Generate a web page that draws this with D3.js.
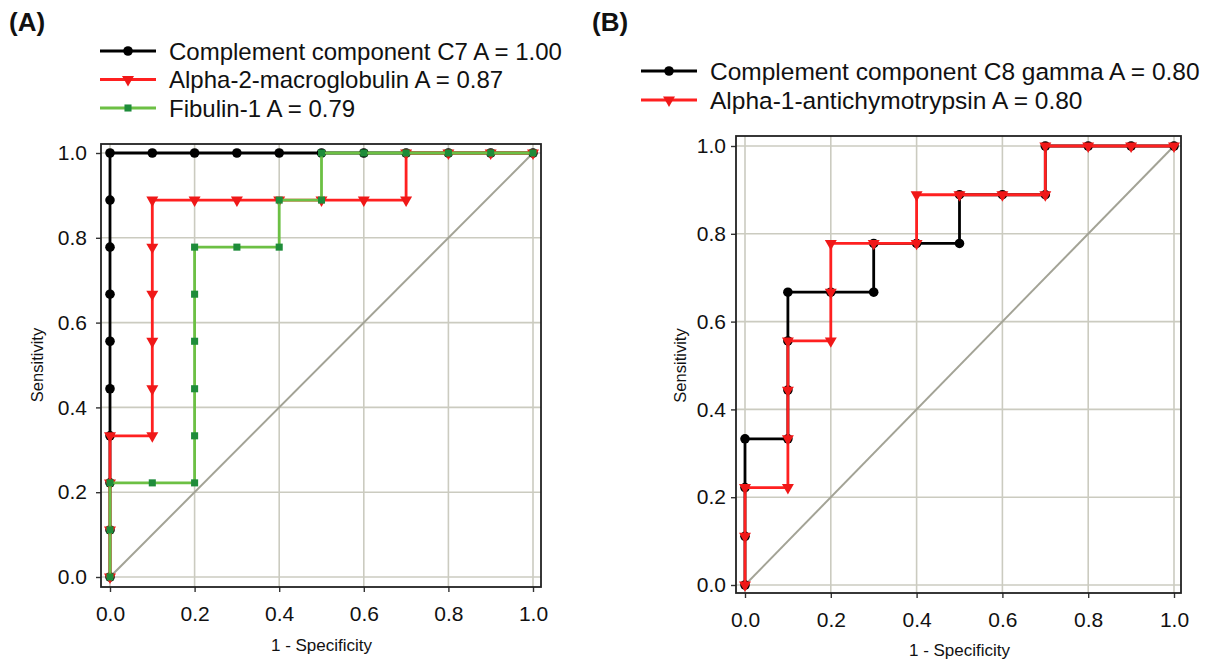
<!DOCTYPE html>
<html>
<head>
<meta charset="utf-8">
<script src="https://cdn.jsdelivr.net/npm/d3@7"></script>
<style>
    body { margin: 0; background: #fff; }
    svg text { font-family: "Liberation Sans", Arial, sans-serif; fill: #111; }
</style>
</head>
<body>
<div id="chart"></div>
<script>
"use strict"

// ---------------------------- DATA ----------------------------//
const tickValues = [0, 0.2, 0.4, 0.6, 0.8, 1.0];

// panel A
const c7Fpr = [0, 0, 0, 0, 0, 0, 0, 0, 0, 0, 0.1, 0.2, 0.3, 0.4, 0.5, 0.6, 0.7, 0.8, 0.9, 1.0];
const c7Sens = [0, 0.111, 0.222, 0.333, 0.444, 0.556, 0.667, 0.778, 0.889, 1.0, 1.0, 1.0, 1.0, 1.0, 1.0, 1.0, 1.0, 1.0, 1.0, 1.0];
const a2mFpr = [0, 0, 0, 0, 0.1, 0.1, 0.1, 0.1, 0.1, 0.1, 0.2, 0.3, 0.4, 0.5, 0.6, 0.7, 0.7, 0.8, 0.9, 1.0];
const a2mSens = [0, 0.111, 0.222, 0.333, 0.333, 0.444, 0.556, 0.667, 0.778, 0.889, 0.889, 0.889, 0.889, 0.889, 0.889, 0.889, 1.0, 1.0, 1.0, 1.0];
const fibFpr = [0, 0, 0, 0.1, 0.2, 0.2, 0.2, 0.2, 0.2, 0.2, 0.3, 0.4, 0.4, 0.5, 0.5, 0.6, 0.7, 0.8, 0.9, 1.0];
const fibSens = [0, 0.111, 0.222, 0.222, 0.222, 0.333, 0.444, 0.556, 0.667, 0.778, 0.778, 0.778, 0.889, 0.889, 1.0, 1.0, 1.0, 1.0, 1.0, 1.0];
const labelsA = ["Complement component C7 A = 1.00", "Alpha-2-macroglobulin A = 0.87", "Fibulin-1 A = 0.79"];

// panel B
const c8Fpr = [0, 0, 0, 0, 0.1, 0.1, 0.1, 0.1, 0.2, 0.3, 0.3, 0.4, 0.5, 0.5, 0.6, 0.7, 0.7, 0.8, 0.9, 1.0];
const c8Sens = [0, 0.111, 0.222, 0.333, 0.333, 0.444, 0.556, 0.667, 0.667, 0.667, 0.778, 0.778, 0.778, 0.889, 0.889, 0.889, 1.0, 1.0, 1.0, 1.0];
const a1actFpr = [0, 0, 0, 0.1, 0.1, 0.1, 0.1, 0.2, 0.2, 0.2, 0.3, 0.4, 0.4, 0.5, 0.6, 0.7, 0.7, 0.8, 0.9, 1.0];
const a1actSens = [0, 0.111, 0.222, 0.222, 0.333, 0.444, 0.556, 0.556, 0.667, 0.778, 0.778, 0.778, 0.889, 0.889, 0.889, 0.889, 1.0, 1.0, 1.0, 1.0];
const labelsB = ["Complement component C8 gamma A = 0.80", "Alpha-1-antichymotrypsin A = 0.80"];

// --------------------------- STYLES ---------------------------//
const styles = {
    black: { line: "#000000", fill: "#000000", symbol: "circle" },
    red: { line: "#ff2020", fill: "#f01818", symbol: "triangle" },
    green: { line: "#6cc044", fill: "#1e8c3a", symbol: "square" }
};

const svg = d3.select("#chart").append("svg")
    .attr("width", 1208)
    .attr("height", 659);

const symbolPath = (kind) => {
    if (kind === "circle") return d3.symbol().type(d3.symbolCircle).size(72)();
    if (kind === "square") return d3.symbol().type(d3.symbolSquare).size(50)();
    return d3.symbol().type(d3.symbolTriangle).size(62)();
};
const symbolRotate = (kind) => kind === "triangle" ? " rotate(180)" : "";

/**
 * One ROC panel
 * @param {*} box plot frame {left, right, top, bottom}
 * @param {*} inner pixel range of 0..1 on both axes
 */
const rocPanel = (box, inner, series, legend, title) => {
    const g = svg.append("g");

    const xScale = d3.scaleLinear().domain([0, 1]).range([inner.x0, inner.x1]);
    const yScale = d3.scaleLinear().domain([0, 1]).range([inner.y0, inner.y1]);

    //----------------------------GRID------------------------------//
    g.append("g").selectAll("line.vgrid").data(tickValues).join("line")
        .attr("x1", d => xScale(d)).attr("x2", d => xScale(d))
        .attr("y1", box.top).attr("y2", box.bottom)
        .attr("stroke", "#cbcbc0").attr("stroke-width", 1.6);
    g.append("g").selectAll("line.hgrid").data(tickValues).join("line")
        .attr("x1", box.left).attr("x2", box.right)
        .attr("y1", d => yScale(d)).attr("y2", d => yScale(d))
        .attr("stroke", "#cbcbc0").attr("stroke-width", 1.6);

    // chance diagonal
    g.append("line")
        .attr("x1", xScale(0)).attr("y1", yScale(0))
        .attr("x2", xScale(1)).attr("y2", yScale(1))
        .attr("stroke", "#a3a396").attr("stroke-width", 2);

    //-----------------------------AXES-----------------------------//
    const xaxis = d3.axisBottom(xScale).tickValues(tickValues)
        .tickFormat(d3.format(".1f")).tickSize(5).tickPadding(14);
    const yaxis = d3.axisLeft(yScale).tickValues(tickValues)
        .tickFormat(d3.format(".1f")).tickSize(5).tickPadding(box.labelPad);

    const xg = g.append("g")
        .attr("transform", `translate(0,${box.bottom})`)
        .call(xaxis);
    const yg = g.append("g")
        .attr("transform", `translate(${box.left},0)`)
        .call(yaxis);
    [xg, yg].forEach(a => {
        a.select(".domain").remove();
        a.selectAll(".tick line").attr("stroke", "#333").attr("stroke-width", 1.4);
        a.selectAll(".tick text").style("font-size", "21px").attr("fill", "#111");
    });

    //----------------------------CURVES----------------------------//
    const line = d3.line().x(d => xScale(d[0])).y(d => yScale(d[1]));
    series.forEach(s => {
        const st = styles[s.style];
        const pts = s.fpr.map((f, i) => [f, s.sens[i]]);
        g.append("path")
            .attr("d", line(pts))
            .attr("fill", "none")
            .attr("stroke", st.line)
            .attr("stroke-width", 2.8)
            .attr("stroke-linejoin", "miter");
        g.append("g").selectAll("path").data(pts).join("path")
            .attr("d", symbolPath(st.symbol))
            .attr("transform", d => `translate(${xScale(d[0])},${yScale(d[1])})${symbolRotate(st.symbol)}`)
            .attr("fill", st.fill);
    });

    // frame
    g.append("rect")
        .attr("x", box.left).attr("y", box.top)
        .attr("width", box.right - box.left).attr("height", box.bottom - box.top)
        .attr("fill", "none").attr("stroke", "#222").attr("stroke-width", 1.8);

    //----------------------------TITLES----------------------------//
    g.append("text")
        .attr("x", (inner.x0 + inner.x1) / 2).attr("y", title.xTitleY)
        .attr("text-anchor", "middle")
        .style("font-size", "17px")
        .text("1 - Specificity");
    g.append("text")
        .attr("transform", `translate(${title.yTitleX},${(inner.y0 + inner.y1) / 2}) rotate(-90)`)
        .attr("text-anchor", "middle")
        .style("font-size", "16.5px")
        .text("Sensitivity");
    g.append("text")
        .attr("x", title.tagX).attr("y", 31)
        .style("font-size", "26px").style("font-weight", "bold")
        .text(title.tag);

    //----------------------------LEGEND----------------------------//
    const lg = g.append("g");
    series.forEach((s, i) => {
        const st = styles[s.style];
        const y = legend.y + i * legend.step;
        lg.append("line")
            .attr("x1", legend.x).attr("x2", legend.x + 56)
            .attr("y1", y).attr("y2", y)
            .attr("stroke", st.line).attr("stroke-width", 2.8);
        lg.append("path")
            .attr("d", symbolPath(st.symbol))
            .attr("transform", `translate(${legend.x + 28},${y})${symbolRotate(st.symbol)}`)
            .attr("fill", st.fill);
        lg.append("text")
            .attr("x", legend.x + 69).attr("y", y)
            .attr("dy", "0.36em")
            .style("font-size", legend.fontSize)
            .text(legend.labels[i]);
    });
};

rocPanel(
    { left: 101, right: 541, top: 144, bottom: 587, labelPad: 9 },
    { x0: 110, x1: 533, y0: 577, y1: 153 },
    [
        { fpr: c7Fpr, sens: c7Sens, style: "black" },
        { fpr: a2mFpr, sens: a2mSens, style: "red" },
        { fpr: fibFpr, sens: fibSens, style: "green" }
    ],
    { x: 100, y: 51, step: 28.5, labels: labelsA, fontSize: "24px" },
    { xTitleY: 651, yTitleX: 43, tag: "(A)", tagX: 9 }
);

rocPanel(
    { left: 736, right: 1181, top: 136, bottom: 593, labelPad: 5 },
    { x0: 745, x1: 1174, y0: 585, y1: 146 },
    [
        { fpr: c8Fpr, sens: c8Sens, style: "black" },
        { fpr: a1actFpr, sens: a1actSens, style: "red" }
    ],
    { x: 641, y: 71, step: 29, labels: labelsB, fontSize: "24.5px" },
    { xTitleY: 656, yTitleX: 686, tag: "(B)", tagX: 592 }
);
</script>
</body>
</html>
